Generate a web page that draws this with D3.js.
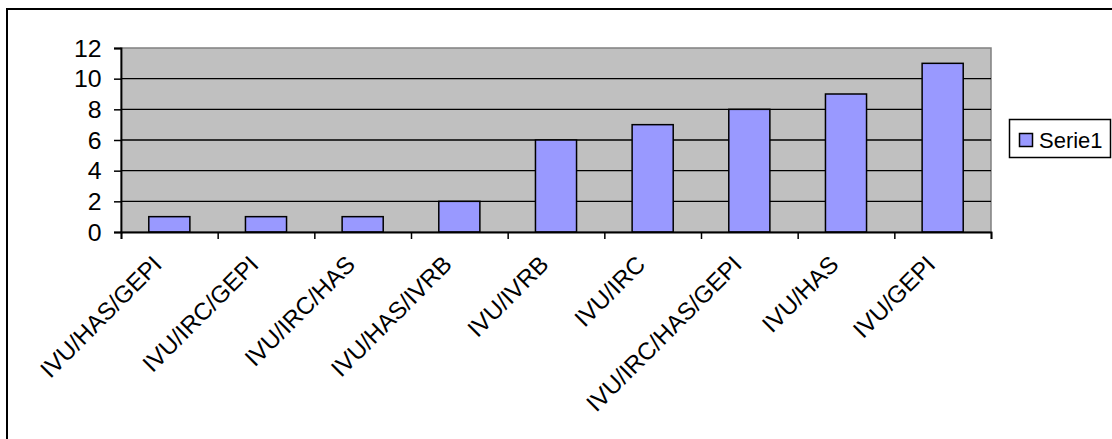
<!DOCTYPE html>
<html>
<head>
<meta charset="utf-8">
<script src="https://cdn.jsdelivr.net/npm/d3@7"></script>
<style>
html,body{margin:0;padding:0;background:#fff;}
svg{display:block;}
text{font-family:"Liberation Sans",Arial,sans-serif;fill:#000;}
</style>
</head>
<body>
<svg id="chart" width="1112" height="439"></svg>
<script>
const categories = ["IVU/HAS/GEPI","IVU/IRC/GEPI","IVU/IRC/HAS","IVU/HAS/IVRB","IVU/IVRB","IVU/IRC","IVU/IRC/HAS/GEPI","IVU/HAS","IVU/GEPI"];
const serie1 = [1,1,1,2,6,7,8,9,11];
const yTicks = [0,2,4,6,8,10,12];
const seriesName = "Serie1";

const svg = d3.select("#chart");
const pL = 121, pR = 991, pT = 48, pB = 232;

// outer frame (extends past right/bottom edges)
svg.append("rect").attr("x",7).attr("y",9).attr("width",1300).attr("height",600)
  .attr("fill","#fff").attr("stroke","#000").attr("stroke-width",2);

const x = d3.scaleBand().domain(categories).range([pL,pR]).paddingInner(0.575).paddingOuter(0.2875);
const xb = d3.scaleLinear().domain([0,categories.length]).range([pL,pR]);
const y = d3.scaleLinear().domain([0,12]).range([pB,pT]);

// plot background
svg.append("rect").attr("x",pL).attr("y",pT).attr("width",pR-pL).attr("height",pB-pT)
  .attr("fill","#c0c0c0").attr("stroke","#808080").attr("stroke-width",1.5);

// gridlines
svg.append("g").selectAll("line").data(yTicks.filter(d=>d>0 && d<12)).join("line")
  .attr("x1",pL).attr("x2",pR).attr("y1",d=>y(d)).attr("y2",d=>y(d))
  .attr("stroke","#000").attr("stroke-width",1.3);

// bars
svg.append("g").selectAll("rect").data(serie1).join("rect")
  .attr("x",(d,i)=>x(categories[i])).attr("width",x.bandwidth())
  .attr("y",d=>y(d)).attr("height",d=>y(0)-y(d))
  .attr("fill","#9999ff").attr("stroke","#000").attr("stroke-width",1.5);

// y axis
const yAxis = svg.append("g").attr("transform",`translate(${pL},0)`)
  .call(d3.axisLeft(y).tickValues(yTicks).tickSize(7).tickPadding(11));
yAxis.select(".domain").attr("stroke","#000").attr("stroke-width",1.8);
yAxis.selectAll(".tick line").attr("stroke","#000").attr("stroke-width",1.5);
yAxis.selectAll("text").style("font-size","23px").attr("font-family","Liberation Sans, Arial, sans-serif")
  .attr("dy","0.36em").attr("transform","scale(1.08,1)");

// x axis (ticks at category boundaries)
const xAxis = svg.append("g").attr("transform",`translate(0,${pB})`)
  .call(d3.axisBottom(xb).tickValues(d3.range(0,categories.length+1)).tickSize(7).tickFormat(""));
xAxis.select(".domain").attr("stroke","#000").attr("stroke-width",1.8);
xAxis.selectAll(".tick line").attr("stroke","#000").attr("stroke-width",1.5);

// x labels rotated
svg.append("g").selectAll("text").data(categories).join("text")
  .attr("transform",d=>`translate(${x(d)+x.bandwidth()/2-6},${pB+34}) rotate(-45)`)
  .attr("text-anchor","end").style("font-size","24px").text(d=>d);

// legend
const lg = svg.append("g");
lg.append("rect").attr("x",1009.5).attr("y",119.5).attr("width",101).attr("height",38)
  .attr("fill","#fff").attr("stroke","#000").attr("stroke-width",1.5);
lg.append("rect").attr("x",1019.5).attr("y",133.5).attr("width",13).attr("height",13)
  .attr("fill","#9999ff").attr("stroke","#000").attr("stroke-width",1.5);
lg.append("text").attr("x",1039).attr("y",148).style("font-size","22px").text(seriesName);
</script>
</body>
</html>
